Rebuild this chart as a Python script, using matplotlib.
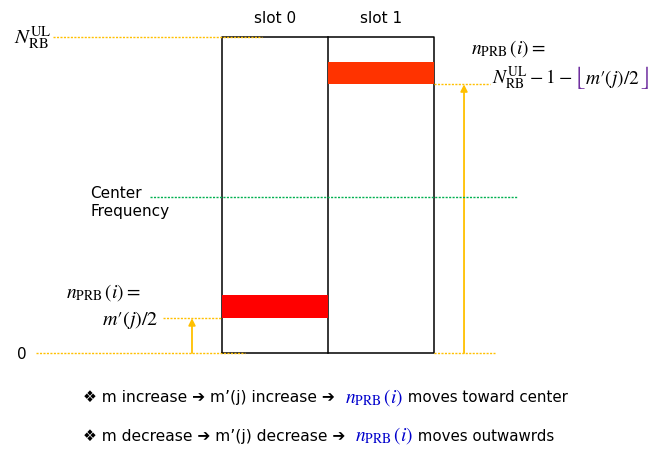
import matplotlib
matplotlib.use('Agg')
import matplotlib.pyplot as plt
from matplotlib.patches import Rectangle

# ---- diagram data (x = slot time, y = PRB index)
slot_edges = [0, 1, 2]
slot_labels = ['slot 0', 'slot 1']
n_rb_ul = 100
center_prb = 49.5
prb_slot0 = (11, 18.5)      # low / high PRB of the hop in slot 0
prb_slot1 = (85, 92)        # low / high PRB of the hop in slot 1
block_colors = ['#FF0000', '#FF3300']

bullets = [
    ('\u2756 m increase \u2794 m\u2019(j) increase \u2794  ', ' moves toward center'),
    ('\u2756 m decrease \u2794 m\u2019(j) decrease \u2794  ', ' moves outwawrds'),
]

YEL = '#FFC000'
GRN = '#00B050'
PUR = '#7030A0'
DOT = (0, (1.5, 1))

plt.rcParams['mathtext.fontset'] = 'stix'
plt.rcParams['font.family'] = ['DejaVu Sans']

fig = plt.figure(figsize=(6.54, 4.52), dpi=100)
ax = fig.add_axes([0, 0, 1, 1])
ax.set_xlim(-2.094, 4.075)
ax.set_ylim(-31.0, 112.0)
ax.axis('off')

# box with slot divider
x0, x1 = slot_edges[0], slot_edges[-1]
ax.plot([x0, x1, x1, x0, x0], [0, 0, n_rb_ul, n_rb_ul, 0], color='black', lw=1.1, zorder=2)
for e in slot_edges[1:-1]:
    ax.plot([e, e], [0, n_rb_ul], color='black', lw=1.1, zorder=2)

for i, lab in enumerate(slot_labels):
    ax.text((slot_edges[i] + slot_edges[i + 1]) / 2, 106.3, lab,
            ha='center', va='center', fontsize=11)

# hopping blocks
for i, (lo, hi) in enumerate([prb_slot0, prb_slot1]):
    ax.add_patch(Rectangle((slot_edges[i], lo), 1, hi - lo, color=block_colors[i], lw=0, zorder=3))

# reference lines
ax.plot([-1.594, 0.377], [n_rb_ul, n_rb_ul], color=YEL, lw=1, ls=DOT, zorder=4)
ax.plot([-1.755, 0.217], [0, 0], color=YEL, lw=1, ls=DOT, zorder=4)
ax.plot([2, 2.575], [0, 0], color=YEL, lw=1, ls=DOT, zorder=4)
ax.plot([-0.557, 0], [prb_slot0[0], prb_slot0[0]], color=YEL, lw=1, ls=DOT, zorder=4)
ax.plot([2, 2.528], [prb_slot1[0], prb_slot1[0]], color=YEL, lw=1, ls=DOT, zorder=4)
ax.plot([-0.679, 2.783], [center_prb, center_prb], color=GRN, lw=1, ls=DOT, zorder=4)

# arrows
for xa, top in [(-0.283, prb_slot0[0]), (2.283, prb_slot1[0])]:
    ax.annotate('', xy=(xa, top), xytext=(xa, 0),
                arrowprops=dict(arrowstyle='-|>', color=YEL, lw=1.3, mutation_scale=10,
                                shrinkA=0, shrinkB=0))

# labels
ax.text(-1.887, 0, '0', ha='center', va='center', fontsize=11)
ax.text(-1.96, n_rb_ul, r'$N_{\mathrm{RB}}^{\mathrm{UL}}$', ha='left', va='center', fontsize=15)
ax.text(-1.245, 47.9, 'Center\nFrequency', ha='left', va='center',
        fontsize=11, linespacing=1.3)

ax.text(-1.47, 19.6, r'$n_{\mathrm{PRB}}\,(i) =$', ha='left', va='center', fontsize=14)
ax.text(-0.60, prb_slot0[0] - 0.3, r"$m\prime(j)/2$", ha='right', va='center', fontsize=14.5)

ax.text(2.35, 96.8, r'$n_{\mathrm{PRB}}\,(i) =$', ha='left', va='center', fontsize=14)

renderer = fig.canvas.get_renderer()


def put_pieces(x, y, pieces):
    for s, color, size in pieces:
        t = ax.text(x, y, s, color=color, ha='left', va='baseline', fontsize=size)
        bb = t.get_window_extent(renderer)
        x = ax.transData.inverted().transform((bb.x1, bb.y0))[0]
    return x


put_pieces(2.55, 85.5, [(r'$N_{\mathrm{RB}}^{\mathrm{UL}}-1-$', 'black', 14),
                        (r'$\lfloor$', PUR, 17),
                        (r"$m\prime(j)/2$", 'black', 14),
                        (r'$\rfloor$', PUR, 17)])

npbr = r'$n_{\mathrm{PRB}}\,(i)$'
for k, (a, b) in enumerate(bullets):
    yb = [-15.3, -27.4][k]
    put_pieces(-1.311, yb, [(a, 'black', 11.2),
                            (npbr, '#0000CC', 14),
                            (b, 'black', 10.8)])

fig.savefig('out.png', dpi=100)
